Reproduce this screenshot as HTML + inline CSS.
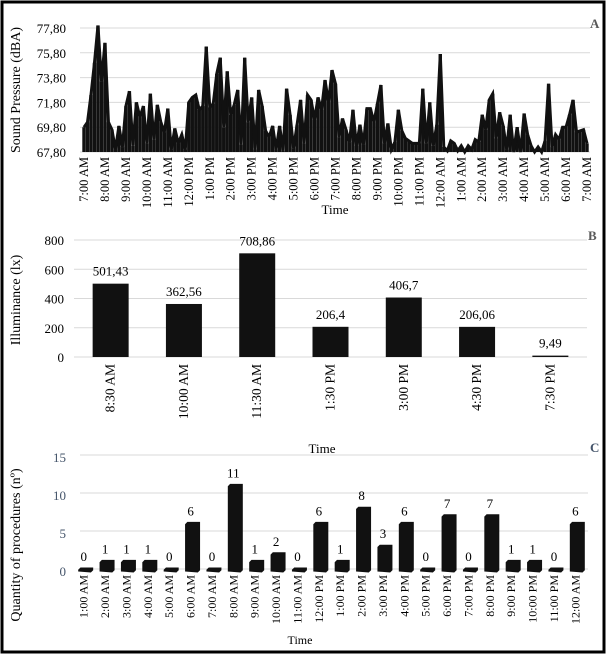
<!DOCTYPE html>
<html><head><meta charset="utf-8"><style>
html,body{margin:0;padding:0;background:#fff}
svg{display:block;font-family:"Liberation Serif",serif}
</style></head><body>
<svg id="c" width="606" height="654" viewBox="0 0 606 654">
<rect x="2" y="2" width="602" height="650" fill="#fff" stroke="#000" stroke-width="3"/>
<g id="A"></g>
<g id="B"></g>
<g id="C"></g>
</svg>
<script>
const aTicks=["67,80","69,80","71,80","73,80","75,80","77,80"];
const aTickVals=[67.8,69.8,71.8,73.8,75.8,77.8];
const aLabels=["7:00 AM","8:00 AM","9:00 AM","10:00 AM","11:00 AM","12:00 PM","1:00 PM","2:00 PM","3:00 PM","4:00 PM","5:00 PM","6:00 PM","7:00 PM","8:00 PM","9:00 PM","10:00 PM","11:00 PM","12:00 AM","1:00 AM","2:00 AM","3:00 AM","4:00 AM","5:00 AM","6:00 AM","7:00 AM"];
const aValues=[69.8,70.2,72.4,75.0,78.0,73.5,76.6,70.2,69.6,68.0,69.9,68.2,71.5,72.7,68.3,71.8,70.6,71.5,68.5,72.5,68.8,71.6,70.2,69.4,71.3,68.0,69.7,68.5,69.2,68.0,71.8,72.2,72.4,71.2,71.5,76.3,71.4,71.7,74.1,75.4,69.8,74.3,70.8,71.6,72.8,68.4,75.4,70.2,72.2,68.0,72.8,71.5,69.5,69.0,69.9,68.0,69.9,67.9,72.9,70.8,68.1,70.0,72.0,68.5,72.4,72.0,70.4,72.2,71.2,73.6,71.8,74.4,73.3,69.0,70.5,69.6,68.6,71.2,68.3,70.0,68.4,71.3,71.3,70.2,71.7,73.2,68.5,70.1,68.0,68.6,71.2,69.5,68.9,68.7,68.5,68.5,68.5,72.9,68.5,71.8,68.3,70.0,75.7,68.2,67.9,68.7,68.5,67.9,68.3,67.8,68.3,68.0,68.8,68.6,70.8,69.6,72.0,72.5,68.9,71.0,69.9,68.0,70.8,67.8,69.8,67.8,70.9,69.2,68.3,67.8,68.2,67.8,68.7,73.3,68.2,69.2,68.8,69.8,69.8,70.8,72.0,69.4,69.5,69.6,68.5];

const bCats=["8:30 AM","10:00 AM","11:30 AM","1:30 PM","3:00 PM","4:30 PM","7:30 PM"];
const bValues=[501.43,362.56,708.86,206.4,406.7,206.06,9.49];
const bLabels=["501,43","362,56","708,86","206,4","406,7","206,06","9,49"];
const bTicks=[0,200,400,600,800];

const cCats=["1:00 AM","2:00 AM","3:00 AM","4:00 AM","5:00 AM","6:00 AM","7:00 AM","8:00 AM","9:00 AM","10:00 AM","11:00 AM","12:00 PM","1:00 PM","2:00 PM","3:00 PM","4:00 PM","5:00 PM","6:00 PM","7:00 PM","8:00 PM","9:00 PM","10:00 PM","11:00 PM","12:00 AM"];
const cValues=[0,1,1,1,0,6,0,11,1,2,0,6,1,8,3,6,0,7,0,7,1,1,0,6];
const cTicks=[0,5,10,15];

const NS="http://www.w3.org/2000/svg";
function mk(p,tag,at,txt){const e=document.createElementNS(NS,tag);for(const k in at)e.setAttribute(k,at[k]);if(txt!==undefined)e.textContent=txt;p.appendChild(e);return e;}

// Panel A
(function(){
const g=document.getElementById('A');
const x0=84,x1=587,yB=152,yT=28;
const y=v=>yB-(v-67.8)/10*(yB-yT);
const x=i=>x0+i*(x1-x0)/(aValues.length-1);
aTickVals.forEach((v,i)=>{
 const l=mk(g,'line',{x1:80,x2:590,y1:y(v),y2:y(v),stroke:'#d9d9d9','stroke-width':1});
 
 
 const t=mk(g,'text',{x:66,y:y(v)+5,'text-anchor':'end','font-size':13},aTicks[i]);
 
 
});
aValues.forEach((v,i)=>{
 const s=mk(g,'line',{x1:x(i),x2:x(i),y1:yB,y2:y(v),stroke:'#111','stroke-width':3.4});
 
 
});
const pl=mk(g,'polyline',{points:aValues.map((v,i)=>x(i)+','+y(v)).join(' '),fill:'none',stroke:'#111','stroke-width':3,'stroke-linejoin':'miter'});


aLabels.forEach((s,i)=>{
 const xx=x0+i*(x1-x0)/(aLabels.length-1);
 const t=mk(g,'text',{transform:`translate(${xx+4},157) rotate(-90)`,'text-anchor':'end','font-size':12.5},s);
 
 
});
let t=mk(g,'text',{x:335,y:214,'text-anchor':'middle','font-size':13},'Time');

t=mk(g,'text',{transform:'translate(20,90) rotate(-90)','text-anchor':'middle','font-size':14},'Sound Pressure (dBA)');

t=mk(g,'text',{x:590,y:28,'font-size':13,'font-weight':'bold',fill:'#595959'},'A');

})();

// Panel B
(function(){
const g=document.getElementById('B');
const x0=74,x1=587,yB=357,yT=240;
const y=v=>yB-v/800*(yB-yT);
const bw=(x1-x0)/bCats.length;
bTicks.forEach(v=>{
 const l=mk(g,'line',{x1:x0,x2:x1,y1:y(v),y2:y(v),stroke:'#d9d9d9','stroke-width':1});
 
 
 const t=mk(g,'text',{x:64,y:y(v)+5,'text-anchor':'end','font-size':13},String(v));
 
 
});
bValues.forEach((v,i)=>{
 const cx=x0+bw*(i+0.5);
 const r=mk(g,'rect',{x:cx-18,y:y(v),width:36,height:Math.max(1,yB-y(v)),fill:'#111'});
 
 
 const t=mk(g,'text',{x:cx,y:y(v)-8,'text-anchor':'middle','font-size':13},bLabels[i]);
 
 
 const tl=mk(g,'text',{transform:`translate(${cx+4},364) rotate(-90)`,'text-anchor':'end','font-size':13.5},bCats[i]);
 
 
});
let t=mk(g,'text',{x:322,y:453,'text-anchor':'middle','font-size':13},'Time');

t=mk(g,'text',{transform:'translate(20,300) rotate(-90)','text-anchor':'middle','font-size':14},'Illuminance (lx)');

t=mk(g,'text',{x:588,y:240,'font-size':13,'font-weight':'bold',fill:'#595959'},'B');

})();

// Panel C
(function(){
const g=document.getElementById('C');
const x0=75,x1=588,yB=571,yT=457;
const y=v=>yB-v/15*(yB-yT);
const bw=(x1-x0)/cCats.length;
cTicks.forEach(v=>{
 const l=mk(g,'line',{x1:x0+5,x2:x1,y1:y(v)-2,y2:y(v)-2,stroke:'#d9d9d9','stroke-width':1});
 
 
 const t=mk(g,'text',{x:66,y:y(v)+5,'text-anchor':'end','font-size':13,fill:'#44546a'},String(v));
 
 
});
cValues.forEach((v,i)=>{
 const cx=x0+bw*(i+0.5);
 const top=y(v)-2;
 const r=mk(g,'path',{d:`M${cx-7},${yB} L${cx-7},${top+1} L${cx-5},${top-1} L${cx+7},${top-1} L${cx+7},${yB-1} L${cx+5},${yB+1} Z`,fill:'#111',stroke:'#111','stroke-width':1});
 
 
 const t=mk(g,'text',{x:cx-2,y:top-8,'text-anchor':'middle','font-size':13},String(v));
 
 
 const tl=mk(g,'text',{transform:`translate(${cx+2},575) rotate(-90)`,'text-anchor':'end','font-size':12},cCats[i]);
 
 
});
let t=mk(g,'text',{x:300,y:644,'text-anchor':'middle','font-size':12},'Time');

t=mk(g,'text',{transform:'translate(20,545) rotate(-90)','text-anchor':'middle','font-size':14},'Quantity of procedures (nº)');

t=mk(g,'text',{x:590,y:452,'font-size':13,'font-weight':'bold',fill:'#44546a'},'C');

})();
</script>
</body></html>
